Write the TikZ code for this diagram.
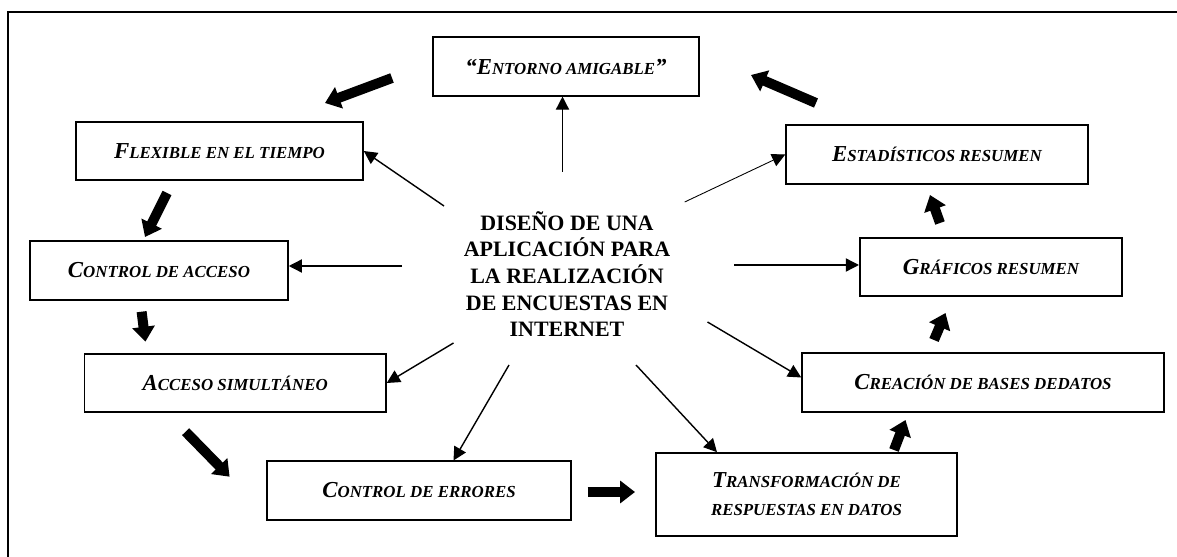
\documentclass[tikz,border=0pt]{standalone}
\usepackage{fontspec}
\setmainfont{Liberation Serif}
\usetikzlibrary{arrows.meta}
\newcommand{\pc}[1]{{\fontsize{9.6}{11}\selectfont #1}}
\tikzset{
caja/.style={draw, line width=0.9pt, minimum height=1.17cm, inner sep=0pt, align=center, font=\bfseries\itshape\fontsize{13}{16}\selectfont},
flecha/.style={line width=0.8pt, -{Triangle[length=7.5pt,width=7.5pt]}},
bloque/.style={line width=5.7pt, -{Triangle[length=8.5pt,width=12.5pt]}},
}
\begin{document}
\begin{tikzpicture}[x=0.02cm, y=-0.02cm]
\useasboundingbox (0,0) rectangle (1177,557);
\draw[line width=1.1pt] (1177,12) -- (8,12) -- (8,557);
\node[caja, minimum width=5.32cm] (ent) at (566,66.5){“E\pc{NTORNO AMIGABLE}”};
\node[caja, minimum width=5.74cm] (flex) at (219.5,151){F\pc{LEXIBLE EN EL TIEMPO}};
\node[caja, minimum width=5.16cm] (cacc) at (159,270.5){C\pc{ONTROL DE ACCESO}};
\node[caja, minimum width=6.03cm] (asim) at (235.2,383){A\pc{CCESO SIMULTÁNEO}};
\node[caja, minimum width=6.08cm] (cerr) at (419,490.5){C\pc{ONTROL DE ERRORES}};
\node[caja, minimum width=6.02cm, minimum height=1.66cm] (trans) at (806.5,494.5){T\pc{RANSFORMACIÓN DE}\\\pc{RESPUESTAS EN DATOS}};
\node[caja, minimum width=7.24cm] (crea) at (983,382.5){C\pc{REACIÓN DE BASES DEDATOS}};
\node[caja, minimum width=5.25cm] (graf) at (991,267){G\pc{RÁFICOS RESUMEN}};
\node[caja, minimum width=6.04cm] (est) at (937,154.5){E\pc{STADÍSTICOS RESUMEN}};
\node[align=center, font=\bfseries\fontsize{12.5}{14.6}\selectfont] (centro) at (567,274){DISEÑO DE UNA\\[0.6pt]APLICACIÓN PARA\\[0.6pt]LA REALIZACIÓN\\[0.6pt]DE ENCUESTAS EN\\[0.6pt]INTERNET};
\coordinate (c1) at (562.5,172);
\coordinate (c2) at (444,206);
\coordinate (c3) at (402,266);
\coordinate (c4) at (453.5,343);
\coordinate (c5) at (509,365);
\coordinate (c6) at (636,365);
\coordinate (c7) at (707.5,322);
\coordinate (c8) at (734,265);
\coordinate (c9) at (684.7,202);
\draw[flecha] (c1) -- (c1 |- ent.south);
\draw[flecha] (c2) -- (flex.east);
\draw[flecha] (c3) -- (c3 -| cacc.east);
\draw[flecha] (c4) -- (asim.east);
\draw[flecha] (c5) -- ([xshift=0.69cm]cerr.north);
\draw[flecha] (c6) -- ([xshift=-1.79cm]trans.north);
\draw[flecha] (c7) -- ([yshift=0.1cm]crea.west);
\draw[flecha] (c8) -- (c8 -| graf.west);
\draw[flecha, line width=0.5pt] (c9) -- (est.west);
\coordinate (b1) at (816,103);
\coordinate (p1) at (751,75);
\coordinate (b2) at (392,78);
\coordinate (p2) at (325,103);
\coordinate (b3) at (167,193);
\coordinate (p3) at (145,237);
\coordinate (b4) at (141.6,311.7);
\coordinate (p4) at (145.4,341.7);
\coordinate (b5) at (185.6,431.7);
\coordinate (p5) at (229.6,476.7);
\coordinate (b6) at (587.6,492);
\coordinate (p6) at (635,492);
\coordinate (b7) at (894,450);
\coordinate (p7) at (905.5,420);
\coordinate (b8) at (934,340);
\coordinate (p8) at (945.5,313);
\coordinate (b9) at (940,223);
\coordinate (p9) at (930,195);
\draw[bloque] (b1) -- (p1);
\draw[bloque] (b2) -- (p2);
\draw[bloque] (b3) -- (p3);
\draw[bloque] (b4) -- (p4);
\draw[bloque] (b5) -- (p5);
\draw[bloque] (b6) -- (p6);
\draw[bloque] (b7) -- (p7);
\draw[bloque] (b8) -- (p8);
\draw[bloque] (b9) -- (p9);
\end{tikzpicture}
\end{document}
